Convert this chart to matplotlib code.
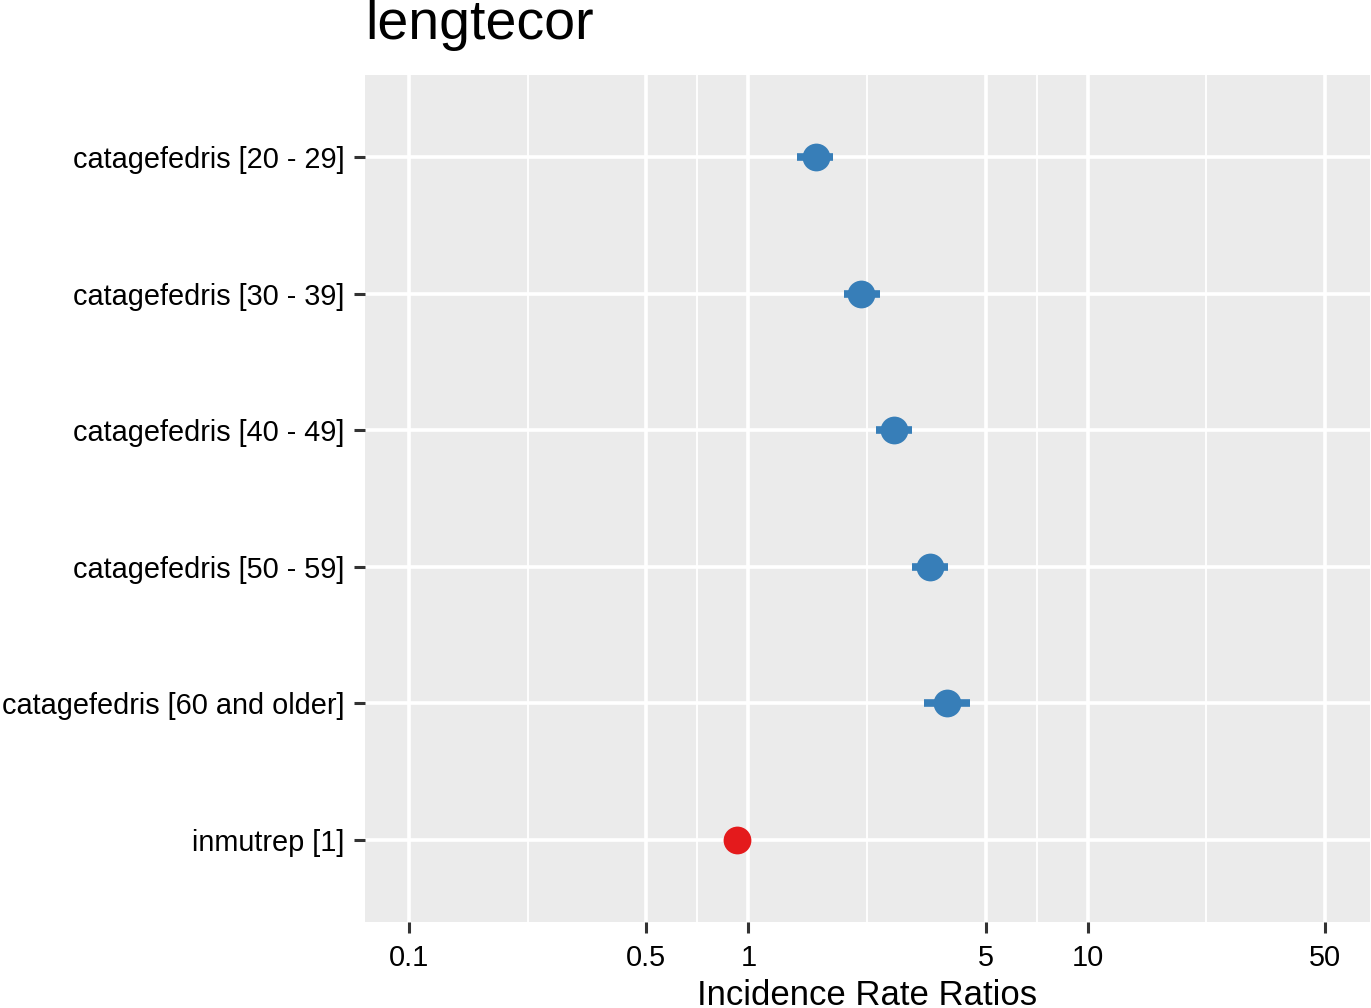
import numpy as np
import matplotlib.pyplot as plt

terms = ['catagefedris [20 - 29]', 'catagefedris [30 - 39]', 'catagefedris [40 - 49]',
         'catagefedris [50 - 59]', 'catagefedris [60 and older]', 'inmutrep [1]']
estimate = [1.58, 2.15, 2.68, 3.43, 3.86, 0.928]
conf_low = [1.39, 1.91, 2.38, 3.03, 3.30, 0.89]
conf_high = [1.78, 2.44, 3.04, 3.88, 4.50, 0.97]
colors = ['#377EB8'] * 5 + ['#E41A1C']

major_ticks = [0.1, 0.5, 1, 5, 10, 50]
tick_labels = ['0.1', '0.5', '1', '5', '10', '50']

plt.rcParams['font.family'] = ['Liberation Sans', 'DejaVu Sans']

W, H = 1371, 1008
fig = plt.figure(figsize=(W / 100, H / 100), dpi=100)
ax = fig.add_axes([365 / W, 1 - 922 / H, (1370 - 365) / W, (922 - 75) / H])
ax.set_facecolor('#EBEBEB')
ax.set_xscale('log')

# rows top to bottom
y = np.arange(len(terms))[::-1] + 1
for yi, est, lo, hi, c in zip(y, estimate, conf_low, conf_high, colors):
    ax.plot([lo, hi], [yi, yi], color=c, lw=5.5, solid_capstyle='butt', zorder=3)
    ax.plot(est, yi, 'o', color=c, markersize=20, markeredgewidth=0, zorder=4)

ax.set_ylim(0.4, 6.6)
ax.set_xlim(10 ** -1.13, 10 ** 1.832)

ax.set_yticks(y)
ax.set_yticklabels(terms)
ax.set_xticks(major_ticks)
ax.set_xticklabels(tick_labels)
# minor gridlines at log midpoints between major ticks
minor = [np.sqrt(a * b) for a, b in zip(major_ticks[:-1], major_ticks[1:])]
ax.set_xticks(minor, minor=True)
ax.xaxis.set_minor_formatter(plt.NullFormatter())
ax.tick_params(axis='x', which='minor', length=0)

ax.grid(True, which='major', color='white', lw=2.6)
ax.grid(True, which='minor', axis='x', color='white', lw=1.3)
ax.set_axisbelow(True)
for s in ax.spines.values():
    s.set_visible(False)

ax.tick_params(axis='both', which='major', length=8, width=2.2, color='#333333',
               labelsize=20.8, labelcolor='black')
ax.tick_params(axis='y', pad=7)
ax.tick_params(axis='x', pad=8)

fig.text((365 + 1370) / 2 / W, 1 - 1005 / H, 'Incidence Rate Ratios', fontsize=25,
         ha='center', va='baseline')
fig.text(365 / W, 1 - 39 / H, 'lengtecor', fontsize=40, ha='left', va='baseline')

fig.savefig('out.png', dpi=100)
